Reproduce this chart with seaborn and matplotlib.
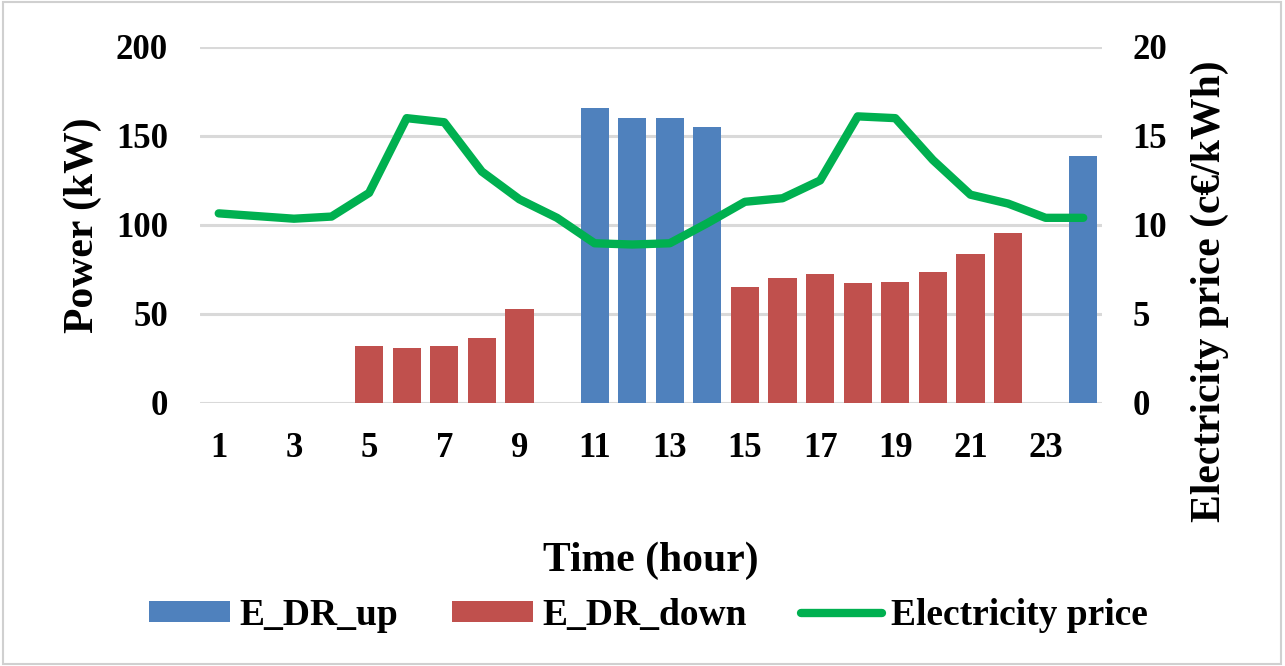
import numpy as np
import pandas as pd
import matplotlib
matplotlib.use("Agg")
import matplotlib.pyplot as plt
import seaborn as sns
from matplotlib.patches import Patch, Rectangle
from matplotlib.lines import Line2D

# data
hours = list(range(1, 25))
e_dr_up = [0, 0, 0, 0, 0, 0, 0, 0, 0, 0, 165.5, 160.3, 160.3, 155.0,
           0, 0, 0, 0, 0, 0, 0, 0, 0, 138.8]
e_dr_down = [0, 0, 0, 0, 32.0, 31.0, 32.0, 36.3, 52.8, 0, 0, 0, 0, 0,
             65.2, 70.4, 72.3, 67.2, 68.0, 73.4, 83.7, 95.3, 0, 0]
price = [10.65, 10.5, 10.35, 10.47, 11.8, 16.0, 15.77, 13.0, 11.44, 10.4,
         8.97, 8.9, 8.97, 10.1, 11.3, 11.5, 12.5, 16.1, 16.0, 13.65,
         11.7, 11.2, 10.4, 10.4]
x_ticklabels = [str(h) if h % 2 == 1 else "" for h in hours]

blue = "#4f81bd"
red = "#c0504d"
green = "#00b050"
grid_col = "#d9d9d9"

sns.set_theme(style="white")
plt.rcParams["font.family"] = ["Liberation Serif", "DejaVu Serif"]
plt.rcParams["font.weight"] = "bold"
for k in ["text.color", "axes.labelcolor", "xtick.color", "ytick.color"]:
    plt.rcParams[k] = "black"

df = pd.DataFrame({
    "hour": hours * 2,
    "power": e_dr_up + e_dr_down,
    "series": ["E_DR_up"] * 24 + ["E_DR_down"] * 24,
})

fig = plt.figure(figsize=(12.85, 6.66), dpi=100)
ax = fig.add_axes([0.1556, 0.395, 0.702, 0.5345])

sns.barplot(data=df, x="hour", y="power", hue="series", dodge=False,
            palette={"E_DR_up": blue, "E_DR_down": red}, saturation=1,
            width=0.75, linewidth=0, ax=ax, legend=False, zorder=2)

ax.set_ylim(0, 200)
ax.set_yticks([0, 50, 100, 150, 200])
ax.set_xlim(-0.5, 23.5)
ax.yaxis.grid(True, color=grid_col, linewidth=2.2, zorder=0)
ax.set_axisbelow(True)
for s in ax.spines.values():
    s.set_visible(False)
ax.set_xticks(range(24))
ax.set_xticklabels(x_ticklabels)
ax.tick_params(axis="both", length=0, labelsize=25)
ax.tick_params(axis="x", pad=21)
ax.tick_params(axis="y", pad=23)
for lab in ax.get_xticklabels() + ax.get_yticklabels():
    lab.set_fontweight("bold")
ax.set_xlabel("Time (hour)", fontsize=30, fontweight="bold", labelpad=55)
ax.set_ylabel("Power (kW)", fontsize=30, fontweight="bold", labelpad=10)

ax2 = ax.twinx()
sns.lineplot(x=np.arange(24), y=price, color=green, linewidth=6,
             solid_capstyle="round", solid_joinstyle="round", ax=ax2, zorder=3)
ax2.set_ylim(0, 20)
ax2.set_yticks([0, 5, 10, 15, 20])
for s in ax2.spines.values():
    s.set_visible(False)
ax2.tick_params(axis="y", length=0, labelsize=25, pad=22)
for lab in ax2.get_yticklabels():
    lab.set_fontweight("bold")
ax2.set_ylabel("Electricity price (c\u20ac/kWh)", fontsize=30,
               fontweight="bold")
# the right label sits lower than the plot centre in the reference
ax2.yaxis.set_label_coords(1.098, 0.315)

handles = [
    Patch(facecolor=blue, edgecolor="none", label="E_DR_up"),
    Patch(facecolor=red, edgecolor="none", label="E_DR_down"),
    Line2D([0], [0], color=green, linewidth=6, solid_capstyle="round",
           label="Electricity price"),
]
fig.legend(handles=handles, loc="center", bbox_to_anchor=(0.5047, 0.0765),
           ncol=3, frameon=False, prop={"size": 27, "weight": "bold"},
           handlelength=2.15, handleheight=0.5, handletextpad=0.25,
           columnspacing=1.45)

fig.patches.append(Rectangle((0.002, 0.003), 0.995, 0.994,
                             transform=fig.transFigure, fill=False,
                             edgecolor="#d0d0d0", linewidth=1.5))

fig.savefig("out.png", dpi=100)
